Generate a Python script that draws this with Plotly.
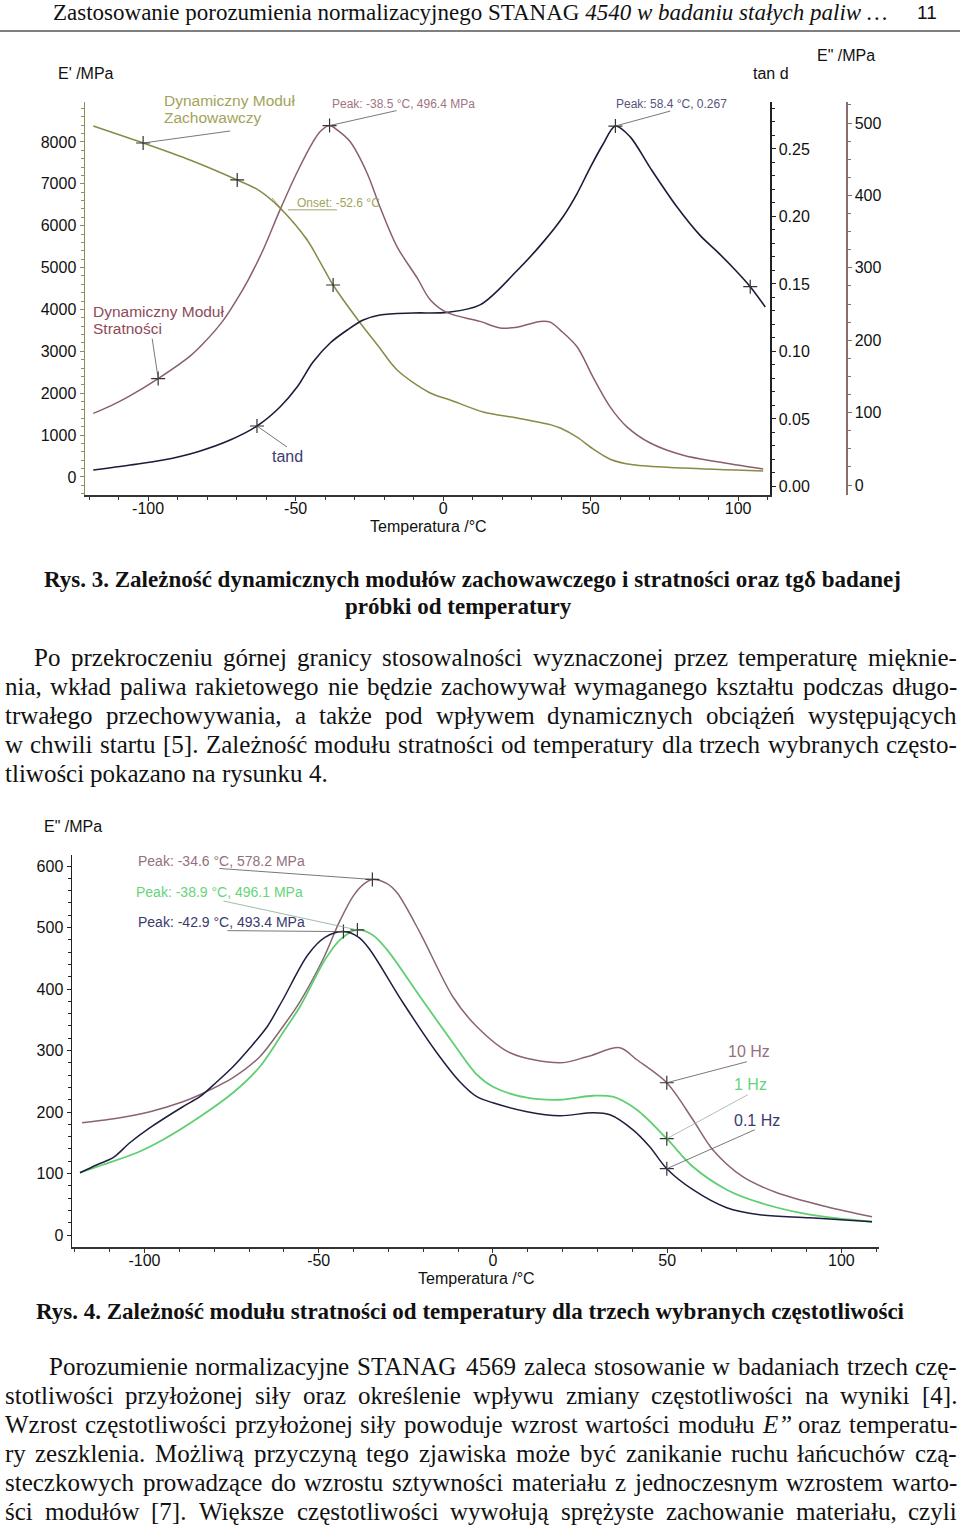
import unicodedata
import plotly.graph_objects as go

W, H = 960, 1529

# ---------------- Figure 3 data ----------------
temp_storage = [-118.6, -101.7, -85.8, -69.8, -62.7, -55.3, -46.1, -41.7, -37.3, -28.1, -22.0, -15.6,
                -4.4, 2.4, 13.6, 25.1, 36.3, 39.7, 45.4, 50.8, 56.6, 64.4, 81.4, 108.5]
storage_modulus = [8382, 7976, 7570, 7093, 6854, 6424, 5660, 5134, 4585, 3678, 3130, 2555,
                   2006, 1839, 1552, 1409, 1250, 1170, 950, 670, 425, 290, 215, 143]

temp_loss = [-118.6, -112.9, -107.1, -96.6, -85.8, -81.4, -74.6, -69.8, -66.1, -61.0, -55.3, -49.5,
             -44.1, -41.5, -38.5, -35.5, -31.5, -25.8, -21.4, -15.6, -8.8, -4.4, 1.4, 12.5, 19.3, 25.1,
             32.9, 36.3, 39.7, 45.4, 50.8, 56.6, 62.4, 70.2, 81.4, 92.9, 108.5]
loss_modulus = [99, 109, 121, 147, 178, 195, 227, 257, 283, 325, 380, 432,
                474, 489, 496.4, 489, 474, 431, 384, 329, 286, 256, 238, 226, 217, 218,
                226, 225, 214, 191, 149, 108, 80, 58, 41, 32, 22]

temp_tand = [-118.6, -106.1, -94.9, -83.4, -72.2, -63.1, -55.3, -49.5, -44.1, -38.3, -32.5, -27.1,
             -21.4, -10.2, 1.4, 12.5, 25.1, 33.9, 40.7, 45.4, 49.8, 54.2, 58.4, 63.4, 70.2, 79.3,
             87.1, 92.9, 98.3, 104.1, 109.2]
tand_values = [0.0122, 0.0159, 0.0196, 0.0256, 0.0344, 0.0448, 0.0589, 0.0737, 0.0922, 0.1063, 0.1159, 0.1233,
               0.1270, 0.1285, 0.1290, 0.1345, 0.1600, 0.1810, 0.2000, 0.2170, 0.2360, 0.2535, 0.267, 0.2590,
               0.2360, 0.2070, 0.1860, 0.1740, 0.1620, 0.1480, 0.1330]

storage_marks_t = [-101.7, -69.8, -37.3]
storage_marks_v = [7976, 7093, 4585]
loss_marks_t = [-96.6, -38.5]
loss_marks_v = [147, 496.4]
tand_marks_t = [-63.1, 58.4, 104.1]
tand_marks_v = [0.0448, 0.267, 0.1480]
onset_t, onset_v = -52.6, 6380

# ---------------- Figure 4 data ----------------
t_10hz = [-117.9, -107.0, -98.4, -89.0, -84.1, -74.6, -66.9, -60.3, -55.4, -48.8, -44.0, -40.0, -37.0, -34.6,
          -30.5, -27.5, -20.9, -11.5, -4.6, 4.9, 19.2, 27.0, 36.4, 41.3, 49.9, 57.4, 63.1, 71.7, 81.5, 95.8, 108.8]
e_10hz = [182.6, 190.7, 200.5, 216.7, 228.1, 255.8, 290, 338.7, 379.3, 448, 510, 552, 571, 578.2,
          572, 556.6, 491.5, 387.5, 338.7, 296.4, 280, 289.9, 304.6, 285, 247.6, 187.5, 138.7, 94.8, 68.8, 46, 29.8]

t_1hz = [-118.5, -111.9, -102.2, -94.7, -84.1, -74.6, -66.9, -60.3, -55.4, -48.2, -43.9, -38.9, -34.5, -30.4,
         -20.9, -11.5, -4.6, 0, 9.8, 19.2, 28.7, 34.4, 41.3, 49.9, 57.4, 67.1, 76.6, 91.0, 108.8]
e_1hz = [101.3, 114.3, 133.8, 155, 192.4, 231.4, 273.7, 329, 371.2, 447.6, 480, 496.1, 488, 464,
         387.5, 312.7, 260.7, 241.1, 223.3, 220, 226.5, 224.9, 203.7, 156.6, 111, 73.7, 52.5, 33, 21.6]

t_01hz = [-118.5, -113.6, -109.0, -104.2, -98.4, -89.0, -84.1, -79.2, -74.6, -69.7, -64.8, -60.3, -53.1,
          -48.2, -42.9, -38.5, -35.3, -25.8, -16.1, -9.5, -4.6, 0, 9.8, 19.2, 28.7, 33.6, 40.2, 45.0, 49.9, 57.4,
          67.1, 76.6, 91.0, 108.8]
e_01hz = [101.3, 114.3, 125.7, 150, 174.5, 208.6, 224.9, 249.3, 273.7, 304.6, 338.7, 382.6, 455.8,
          484, 493.4, 484, 464, 377.7, 296.4, 249.3, 224.9, 215, 200.5, 194, 198.9, 195.6, 171, 143.6, 107.8, 73.7,
          44.4, 33, 28.1, 21.6]

peaks4_t = [-34.6, -38.9, -42.9]
peaks4_v = [578.2, 496.1, 493.4]
marks4_t = [49.9, 49.9, 49.9]
marks4_v = [247.6, 156.6, 107.8]

# tick labels
x_ticks = [-100, -50, 0, 50, 100]
x_labels = ["-100", "-50", "0", "50", "100"]
e1_ticks = [0, 1000, 2000, 3000, 4000, 5000, 6000, 7000, 8000]
tand_ticks = [0, 0.05, 0.10, 0.15, 0.20, 0.25]
tand_labels = ["0.00", "0.05", "0.10", "0.15", "0.20", "0.25"]
e2_ticks = [0, 100, 200, 300, 400, 500]
e4_ticks = [0, 100, 200, 300, 400, 500, 600]

# ---------------- page text ----------------
header_text = "Zastosowanie porozumienia normalizacyjnego STANAG <i>4540 w badaniu stałych paliw …</i>"
page_number = "11"
caption3 = ["Rys. 3. Zależność dynamicznych modułów zachowawczego i stratności oraz tgδ badanej",
            "próbki od temperatury"]
caption4 = "Rys. 4. Zależność modułu stratności od temperatury dla trzech wybranych częstotliwości"
para1 = ["Po przekroczeniu górnej granicy stosowalności wyznaczonej przez temperaturę mięknie-",
         "nia, wkład paliwa rakietowego nie będzie zachowywał wymaganego kształtu podczas długo-",
         "trwałego przechowywania, a także pod wpływem dynamicznych obciążeń występujących",
         "w chwili startu [5]. Zależność modułu stratności od temperatury dla trzech wybranych często-",
         "tliwości pokazano na rysunku 4."]
para2 = ["Porozumienie normalizacyjne STANAG 4569 zaleca stosowanie w badaniach trzech czę-",
         "stotliwości przyłożonej siły oraz określenie wpływu zmiany częstotliwości na wyniki [4].",
         "Wzrost częstotliwości przyłożonej siły powoduje wzrost wartości modułu <i>E”</i> oraz temperatu-",
         "ry zeszklenia. Możliwą przyczyną tego zjawiska może być zanikanie ruchu łańcuchów czą-",
         "steczkowych prowadzące do wzrostu sztywności materiału z jednoczesnym wzrostem warto-",
         "ści modułów [7]. Większe częstotliwości wywołują sprężyste zachowanie materiału, czyli"]

# ---------------- styles ----------------
SANS = "Liberation Sans, Arial, sans-serif"
SERIF = "Liberation Serif, Times New Roman, serif"
C_STORAGE = "#8a8a48"
C_STORAGE_TXT = "#a3a35a"
C_LOSS = "#8a5f6c"
C_LOSS_TXT = "#8e4a58"
C_TAND = "#1c1c3a"
C_TAND_TXT = "#3c3c72"
C_10 = "#8a6472"
C_1 = "#5fcf72"
C_01 = "#1e1e40"
TXT = "#111111"


def X(p):
    return p / W


def Y(p):
    return 1 - p / H


# Times-Roman advance widths (1/1000 em) for word placement in justified lines
_upper = dict(zip("ABCDEFGHIJKLMNOPQRSTUVWXYZ",
                  [722, 667, 667, 722, 611, 556, 722, 722, 333, 389, 722, 611, 889, 722, 722, 556, 722, 667,
                   556, 611, 722, 722, 944, 722, 722, 611]))
_lower = dict(zip("abcdefghijklmnopqrstuvwxyz",
                  [444, 500, 444, 500, 444, 333, 500, 500, 278, 278, 500, 278, 778, 500, 500, 500, 500, 333,
                   389, 278, 500, 500, 722, 500, 500, 444]))
TW = {" ": 250, ",": 250, ".": 250, "-": 333, "[": 333, "]": 333, "(": 333, ")": 333, ":": 278,
      ";": 278, "”": 500, "ł": 278, "Ł": 611}
TW.update(_upper)
TW.update(_lower)
for d in "0123456789":
    TW[d] = 500


def word_width(word, size):
    s = word.replace("<i>", "").replace("</i>", "")
    tot = 0
    for c in s:
        if c in TW:
            tot += TW[c]
        else:
            base = unicodedata.normalize("NFD", c)[0]
            tot += TW.get(base, 500)
    return tot * size / 1000.0


annotations = []
shapes = []


def text(x, y, t, size, color=TXT, family=SANS, xanchor="left"):
    annotations.append(dict(x=X(x), y=Y(y), xref="paper", yref="paper", text=t, showarrow=False,
                            xanchor=xanchor, yanchor="middle", borderpad=0,
                            font=dict(size=size, color=color, family=family)))


def text_line(line, left, right, y, size, justify=True):
    words = line.split(" ")
    widths = [word_width(w, size) for w in words]
    if justify and len(words) > 1:
        gap = (right - left - sum(widths)) / (len(words) - 1)
    else:
        gap = 250 * size / 1000.0
    x = left
    for w, wd in zip(words, widths):
        text(x, y, w, size, TXT, SERIF)
        x += wd + gap


def leader(xref, yref, t, v, dx, dy, color="#555555", width=0.8, x0=0, y0=0):
    shapes.append(dict(type="line", xref=xref, yref=yref, xsizemode="pixel", ysizemode="pixel",
                       xanchor=t, yanchor=v, x0=x0, y0=y0, x1=dx, y1=dy,
                       line=dict(color=color, width=width), layer="above"))


fig = go.Figure()

# ---- Figure 3 traces ----
fig.add_trace(go.Scatter(x=temp_storage, y=storage_modulus, mode="lines", xaxis="x", yaxis="y",
                         line=dict(color=C_STORAGE, width=1.5, shape="spline", smoothing=0.9)))
fig.add_trace(go.Scatter(x=temp_loss, y=loss_modulus, mode="lines", xaxis="x", yaxis="y3",
                         line=dict(color=C_LOSS, width=1.5, shape="spline", smoothing=0.9)))
fig.add_trace(go.Scatter(x=temp_tand, y=tand_values, mode="lines", xaxis="x", yaxis="y2",
                         line=dict(color=C_TAND, width=1.6, shape="spline", smoothing=0.9)))
mk = dict(symbol="cross-thin", size=10, line=dict(width=1.2, color="#333333"))
fig.add_trace(go.Scatter(x=storage_marks_t, y=storage_marks_v, mode="markers", xaxis="x", yaxis="y", marker=mk))
fig.add_trace(go.Scatter(x=loss_marks_t, y=loss_marks_v, mode="markers", xaxis="x", yaxis="y3", marker=mk))
fig.add_trace(go.Scatter(x=tand_marks_t, y=tand_marks_v, mode="markers", xaxis="x", yaxis="y2", marker=mk))

# ---- Figure 4 traces ----
fig.add_trace(go.Scatter(x=t_10hz, y=e_10hz, mode="lines", xaxis="x2", yaxis="y4",
                         line=dict(color=C_10, width=1.5, shape="spline", smoothing=0.9)))
fig.add_trace(go.Scatter(x=t_1hz, y=e_1hz, mode="lines", xaxis="x2", yaxis="y4",
                         line=dict(color=C_1, width=1.8, shape="spline", smoothing=0.9)))
fig.add_trace(go.Scatter(x=t_01hz, y=e_01hz, mode="lines", xaxis="x2", yaxis="y4",
                         line=dict(color=C_01, width=1.5, shape="spline", smoothing=0.9)))
fig.add_trace(go.Scatter(x=peaks4_t + marks4_t, y=peaks4_v + marks4_v, mode="markers", xaxis="x2", yaxis="y4",
                         marker=mk))

# ---- axes ----
tickfont = dict(size=16, color=TXT, family=SANS)


def xax(domain, rng, anchor):
    return dict(domain=domain, range=rng, anchor=anchor, tickmode="array", tickvals=x_ticks, ticktext=x_labels,
                ticks="outside", ticklen=4, tickcolor="#333333", showline=True, linecolor="#333333",
                linewidth=1.5, showgrid=False, zeroline=False, tickfont=tickfont, fixedrange=True,
                ticklabelstandoff=-6,
                minor=dict(tickmode="linear", tick0=0, dtick=10, ticks="outside", ticklen=3, tickcolor="#333333"))


def yax(rng, tickvals, ticktext, color, minor_dtick, **kw):
    d = dict(range=rng, tickmode="array", tickvals=tickvals, ticktext=ticktext, ticks="outside", ticklen=4,
             tickcolor=color, showline=True, linecolor=color, linewidth=1.5, showgrid=False, zeroline=False,
             tickfont=tickfont, fixedrange=True,
             minor=dict(tickmode="linear", tick0=0, dtick=minor_dtick, ticks="outside", ticklen=3, tickcolor=color))
    d.update(kw)
    return d


layout_axes = dict(
    xaxis=xax([X(85), X(770)], [-121.4, 110.8], "y"),
    yaxis=yax([-430, 8955], e1_ticks, [str(v) for v in e1_ticks], "#8e8e5a", 200,
              domain=[Y(495), Y(102)], anchor="x", side="left"),
    yaxis2=yax([-0.0063, 0.2848], tand_ticks, tand_labels, "#222222", 0.01,
               overlaying="y", side="right", anchor="x"),
    yaxis3=yax([-13.8, 529], e2_ticks, [str(v) for v in e2_ticks], "#8a6e6e", 25,
               overlaying="y", side="right", anchor="free", position=X(846)),
    xaxis2=xax([X(72), X(879)], [-120.8, 110.8], "y4"),
    yaxis4=yax([-19.5, 618], e4_ticks, [str(v) for v in e4_ticks], "#222222", 20,
               domain=[Y(1247), Y(855)], anchor="x2", side="left"),
)

# ---- Figure 3 labels ----
text(57, 74, "E' /MPa", 16)
text(752, 74, "tan d", 16)
text(816, 55, 'E" /MPa', 16)
text(428, 526, "Temperatura /°C", 16, xanchor="center")
text(163, 100, "Dynamiczny Moduł", 15.5, C_STORAGE_TXT)
text(163, 118, "Zachowawczy", 15.5, C_STORAGE_TXT)
text(331, 104, "Peak: -38.5 °C, 496.4 MPa", 12, "#a07480")
text(296, 203, "Onset: -52.6 °C", 12, C_STORAGE_TXT)
text(615, 104, "Peak: 58.4 °C, 0.267", 12, "#55557a")
text(92, 311, "Dynamiczny Moduł", 15.5, C_LOSS_TXT)
text(92, 328, "Stratności", 15.5, C_LOSS_TXT)
text(271, 456, "tand", 16, C_TAND_TXT)

leader("x", "y", storage_marks_t[0], storage_marks_v[0], 87, 12)
leader("x", "y3", loss_marks_t[1], loss_marks_v[1], 67, 15)
leader("x", "y2", tand_marks_t[1], tand_marks_v[1], 55, 15)
leader("x", "y3", loss_marks_t[0], loss_marks_v[0], -6, 40)
leader("x", "y2", tand_marks_t[0], tand_marks_v[0], 30, -21)
leader("x", "y", onset_t, onset_v, 49, 0, C_STORAGE)
leader("x", "y", onset_t, onset_v, 20, -30, C_STORAGE, x0=-16, y0=12)

# ---- Figure 4 labels ----
text(43, 827, 'E" /MPa', 16)
text(476, 1278, "Temperatura /°C", 16, xanchor="center")
text(137, 861, "Peak: -34.6 °C, 578.2 MPa", 14, "#95707c")
text(135, 892, "Peak: -38.9 °C, 496.1 MPa", 14, "#66d47a")
text(137, 922, "Peak: -42.9 °C, 493.4 MPa", 14, "#3a3a6e")
text(727, 1051, "10 Hz", 16, "#95707c")
text(733, 1084, "1 Hz", 16, "#66d47a")
text(733, 1120, "0.1 Hz", 16, "#3a3a6e")
leader("x2", "y4", peaks4_t[0], peaks4_v[0], -153, 11)
leader("x2", "y4", peaks4_t[1], peaks4_v[1], -134, 29, "#8aa890")
leader("x2", "y4", peaks4_t[2], peaks4_v[2], -116, 1)
leader("x2", "y4", marks4_t[0], marks4_v[0], 80, 21)
leader("x2", "y4", marks4_t[1], marks4_v[1], 81, 44, "#9ab09f")
leader("x2", "y4", marks4_t[2], marks4_v[2], 88, 39)

# ---- page text ----
text(52, 12, header_text, 23, TXT, SERIF)
text(927, 12, page_number, 19, TXT, SANS, xanchor="center")
shapes.append(dict(type="line", xref="paper", yref="paper", x0=0, x1=1, y0=Y(31), y1=Y(31),
                   line=dict(color="#555555", width=1.5)))

text(472, 579, "<b>" + caption3[0] + "</b>", 23, TXT, SERIF, xanchor="center")
text(458, 607, "<b>" + caption3[1] + "</b>", 23, TXT, SERIF, xanchor="center")
text(35, 1311, "<b>" + caption4 + "</b>", 23, TXT, SERIF)

BODY = 25
p1_left = [33, 4, 4, 4, 4]
p1_y = [657, 686, 715, 744, 773]
for i, line in enumerate(para1):
    text_line(line, p1_left[i], 956, p1_y[i], BODY, justify=(i < len(para1) - 1))

p2_left = [48, 4, 4, 4, 4, 4]
p2_y = [1366, 1395, 1424, 1453, 1482, 1511]
for i, line in enumerate(para2):
    text_line(line, p2_left[i], 956, p2_y[i], BODY, justify=True)

fig.update_layout(
    width=W, height=H, margin=dict(l=0, r=0, t=0, b=0), showlegend=False,
    paper_bgcolor="white", plot_bgcolor="white",
    annotations=annotations, shapes=shapes, **layout_axes,
)

fig.write_html("out.html", config={"displayModeBar": False, "staticPlot": True},
               post_script="document.body.style.margin='0';")
